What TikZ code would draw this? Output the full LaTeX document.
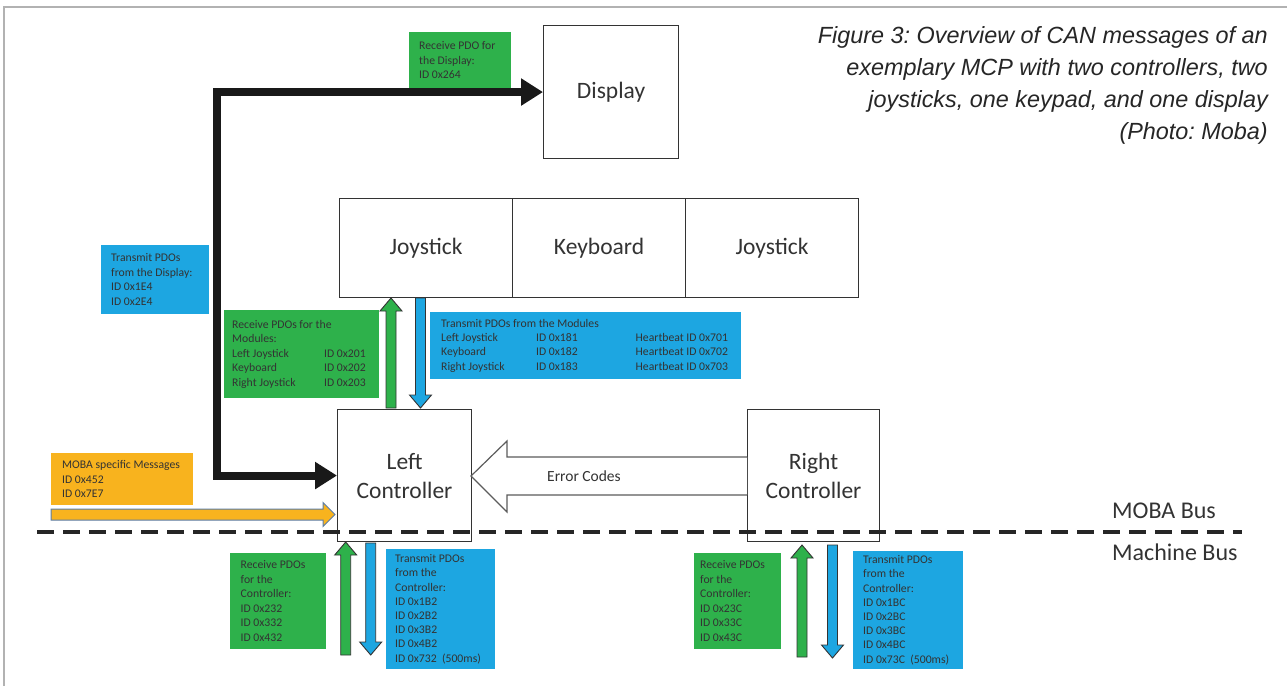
\documentclass[tikz,border=0pt]{standalone}
\usepackage{fontspec}
\setmainfont{Carlito}
\newfontfamily\capfont{Liberation Sans}
\usetikzlibrary{arrows.meta,calc}
\frenchspacing
\definecolor{pgreen}{HTML}{2EB14B}
\definecolor{pblue}{HTML}{1DA6E1}
\definecolor{porange}{HTML}{F8B31E}
\definecolor{txt}{HTML}{333333}
\definecolor{olblue}{HTML}{5A7DA8}
\newcommand\uparr[4]{\draw[fatline, fill=#1] ({#2-5},#3) -- ({#2-5},{#4+13}) -- ({#2-11},{#4+13}) -- (#2,#4) -- ({#2+11},{#4+13}) -- ({#2+5},{#4+13}) -- ({#2+5},#3) -- cycle;}
\newcommand\downarr[4]{\draw[fatline, fill=#1] ({#2-5},#3) -- ({#2-5},{#4-13}) -- ({#2-11},{#4-13}) -- (#2,#4) -- ({#2+11},{#4-13}) -- ({#2+5},{#4-13}) -- ({#2+5},#3) -- cycle;}
\begin{document}
\begin{tikzpicture}[x=1pt,y=-1pt,
  bigbox/.style={draw=txt, line width=1.1pt, anchor=north west, inner sep=0pt, align=center, font=\fontsize{23.5}{29}\selectfont, text=txt},
  cbox/.style={anchor=north west, inner sep=0pt, draw=none},
  ctext/.style={anchor=west, inner sep=0pt, align=left, font=\fontsize{11.7}{14.5}\selectfont, text=txt},
  fatline/.style={draw=txt, line width=0.9pt, line join=miter},
  buslabel/.style={anchor=west, inner sep=0pt, font=\fontsize{24}{29}\selectfont, text=txt},
]
\useasboundingbox (0,0) rectangle (1287,686);
\fill[white] (0,0) rectangle (1287,686);
% frame
\draw[gray!60, line width=1.2pt] (4,686) -- (4,7) -- (1287,7);

% caption
\node[anchor=north east, align=right, inner sep=0pt, text=black!85,
  font=\capfont\itshape\fontsize{23.4}{32}\selectfont] (cap) at (1268,26)
  {Figure 3: Overview of CAN messages of an\\exemplary MCP with two controllers, two\\joysticks, one keypad, and one display\\(Photo: Moba)};

% main boxes
\node[bigbox, minimum width=135pt, minimum height=133pt] (disp) at (543,25) {Display};
\node[bigbox, minimum width=173pt, minimum height=99pt] (joyl) at (339,198) {Joystick};
\node[bigbox, minimum width=173pt, minimum height=99pt] (key) at (512,198) {Keyboard};
\node[bigbox, minimum width=173pt, minimum height=99pt] (joyr) at (685,198) {Joystick};
\node[bigbox, minimum width=134pt, minimum height=132pt] (lc) at (337,409) {Left\\Controller};
\node[bigbox, minimum width=132pt, minimum height=132pt] (rc) at (747,409) {Right\\Controller};

% black arrow
\draw[line width=8pt, line join=miter, black!90,
  {Triangle[length=22pt,width=26pt]}-{Triangle[length=22pt,width=26pt]}]
  (lc.west) -- ++(-120,0) |- (disp.west);

% message boxes
\node[cbox, fill=pgreen, minimum width=102pt, minimum height=56pt] (rdisp) at (409,32) {};
\node[ctext] (trdisp) at ($(rdisp.west)+(10,0)$) {Receive PDO for\\the Display:\\ID 0x264};

\node[cbox, fill=pblue, minimum width=108pt, minimum height=69pt] (tdisp) at (101,245) {};
\node[ctext] (ttdisp) at ($(tdisp.west)+(10,0)$) {Transmit PDOs\\from the Display:\\ID 0x1E4\\ID 0x2E4};

\node[cbox, fill=pgreen, minimum width=155pt, minimum height=88pt] (rmod) at (224,310) {};
\node[ctext] (trmod) at ($(rmod.west)+(8,0)$) {Receive PDOs for the\\Modules:\\\makebox[92pt][l]{Left Joystick}ID 0x201\\\makebox[92pt][l]{Keyboard}ID 0x202\\\makebox[92pt][l]{Right Joystick}ID 0x203};

\node[cbox, fill=pblue, minimum width=311pt, minimum height=67pt] (tmod) at (430,312) {};
\node[ctext, font=\fontsize{11.7}{14.3}\selectfont] (ttmod) at ($(tmod.west)+(11,0)$) {Transmit PDOs from the Modules\\\makebox[95pt][l]{Left Joystick}\makebox[99.5pt][l]{ID 0x181}Heartbeat ID 0x701\\\makebox[95pt][l]{Keyboard}\makebox[99.5pt][l]{ID 0x182}Heartbeat ID 0x702\\\makebox[95pt][l]{Right Joystick}\makebox[99.5pt][l]{ID 0x183}Heartbeat ID 0x703};

\node[cbox, fill=porange, minimum width=142pt, minimum height=52pt] (moba) at (51,453) {};
\node[ctext] (tmoba) at ($(moba.west)+(11,0)$) {MOBA specific Messages\\ID 0x452\\ID 0x7E7};

\node[cbox, fill=pgreen, minimum width=96pt, minimum height=96pt] (rlc) at (230,553) {};
\node[ctext] (trlc) at ($(rlc.west)+(10.5,0)$) {Receive PDOs\\for the\\Controller:\\ID 0x232\\ID 0x332\\ID 0x432};

\node[cbox, fill=pblue, minimum width=109pt, minimum height=120pt] (tlc) at (386,549) {};
\node[ctext, font=\fontsize{11.7}{14.2}\selectfont] (ttlc) at ($(tlc.west)+(9,0)$) {Transmit PDOs\\from the\\Controller:\\ID 0x1B2\\ID 0x2B2\\ID 0x3B2\\ID 0x4B2\\ID 0x732\ \ (500ms)};

\node[cbox, fill=pgreen, minimum width=87pt, minimum height=96pt] (rrc) at (694,553) {};
\node[ctext] (trrc) at ($(rrc.west)+(6,0)$) {Receive PDOs\\for the\\Controller:\\ID 0x23C\\ID 0x33C\\ID 0x43C};

\node[cbox, fill=pblue, minimum width=110pt, minimum height=118pt] (trc) at (853,551) {};
\node[ctext, font=\fontsize{11.7}{14.2}\selectfont] (ttrc) at ($(trc.west)+(10,0)$) {Transmit PDOs\\from the\\Controller:\\ID 0x1BC\\ID 0x2BC\\ID 0x3BC\\ID 0x4BC\\ID 0x73C\ \ (500ms)};

% fat arrows
\uparr{pgreen}{391}{408}{298}
\downarr{pblue}{420.5}{298}{408}
\uparr{pgreen}{345.7}{655}{542}
\downarr{pblue}{370.7}{543}{655}
\uparr{pgreen}{802}{657}{545}
\downarr{pblue}{832.5}{545}{658}

% orange arrow
\draw[line width=1pt, draw=olblue, fill=porange, line join=miter]
  (51,509) -- (323,509) -- (323,502.5) -- (335,514.5) -- (323,526.5) -- (323,520) -- (51,520) -- cycle;

% error codes arrow
\draw[draw=txt!80, line width=1.2pt, fill=white, line join=miter]
  (747,457) -- (507,457) -- (507,441) -- (471,476) -- (507,512) -- (507,495) -- (747,495);
\node[inner sep=0pt, font=\fontsize{15.5}{18}\selectfont, text=txt] (err) at (584,476) {Error Codes};

% bus line
\draw[line width=4pt, dash pattern=on 17pt off 9pt, black!85] (37,532) -- (1242,532);
\node[buslabel] (moblbl) at (1112,511) {MOBA Bus};
\node[buslabel] (machlbl) at (1112,552) {Machine Bus};
\end{tikzpicture}
\end{document}
